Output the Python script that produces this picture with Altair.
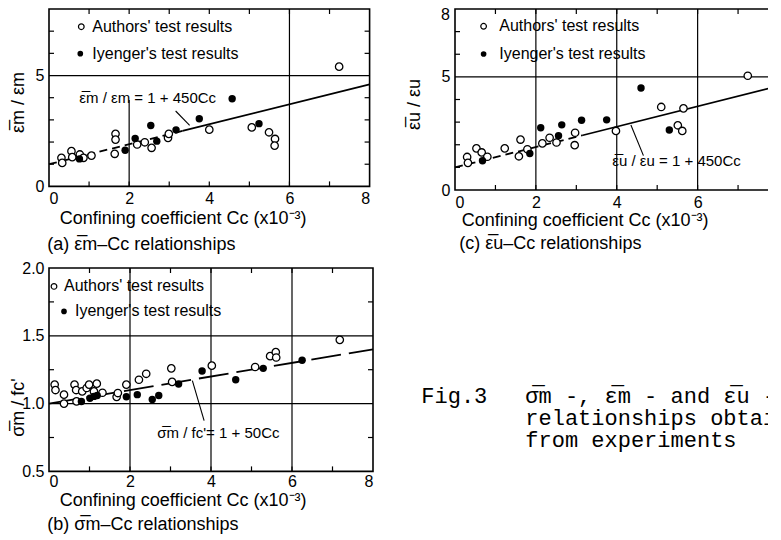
import altair as alt
import pandas as pd

FONT = "Liberation Sans"
MONO = "Liberation Mono"
OL = "\u0305"

# ---------------- data ----------------
# (a) mean strain ratio vs Cc (x10^-3)
a_open_x = [0.31, 0.33, 0.56, 0.58, 0.77, 0.86, 1.06, 1.66, 1.66, 1.64, 2.20, 2.39, 2.56, 2.97, 2.99, 4.00, 5.06, 5.49, 5.64, 5.63, 7.24]
a_open_y = [1.29, 1.06, 1.59, 1.32, 1.44, 1.29, 1.39, 2.37, 2.11, 1.47, 1.89, 1.99, 1.74, 2.19, 2.37, 2.56, 2.66, 2.44, 2.14, 1.84, 5.40]
a_fill_x = [0.76, 1.90, 2.15, 2.54, 2.69, 3.17, 3.75, 4.57, 5.24]
a_fill_y = [1.24, 1.63, 2.16, 2.75, 2.04, 2.55, 3.05, 3.95, 2.83]
a_fit_dash_x = [0.0, 3.33]
a_fit_dash_y = [1.0, 2.50]
a_fit_solid_x = [3.33, 8.0]
a_fit_solid_y = [2.50, 4.60]

# (b) stress ratio vs Cc
b_open_x = [0.14, 0.16, 0.37, 0.37, 0.63, 0.67, 0.68, 0.82, 0.93, 0.99, 1.11, 1.18, 1.32, 1.67, 1.70, 1.91, 2.22, 2.40, 3.02, 3.04, 4.02, 5.09, 5.46, 5.60, 5.61, 7.18]
b_open_y = [1.14, 1.10, 1.066, 1.00, 1.14, 1.10, 1.016, 1.09, 1.115, 1.14, 1.09, 1.147, 1.08, 1.05, 1.078, 1.14, 1.176, 1.22, 1.26, 1.16, 1.28, 1.27, 1.35, 1.38, 1.34, 1.47]
b_fill_x = [0.80, 1.01, 1.11, 1.19, 1.91, 2.18, 2.55, 2.71, 3.20, 3.78, 4.61, 5.29, 6.25]
b_fill_y = [1.016, 1.04, 1.053, 1.06, 1.05, 1.066, 1.03, 1.06, 1.145, 1.24, 1.176, 1.26, 1.32]
b_fit_x = [0.0, 8.0]
b_fit_y = [1.0, 1.4]

# (c) ultimate strain ratio vs Cc
c_open_x = [0.30, 0.32, 0.53, 0.66, 0.80, 1.23, 1.62, 1.58, 1.79, 2.16, 2.34, 2.51, 2.97, 2.96, 3.98, 5.10, 5.65, 5.51, 5.62, 7.24]
c_open_y = [1.46, 1.20, 1.84, 1.66, 1.47, 1.84, 2.23, 1.49, 1.80, 2.06, 2.31, 2.10, 2.53, 1.98, 2.61, 3.67, 3.61, 2.86, 2.61, 5.05]
c_fill_x = [0.68, 1.85, 2.12, 2.56, 2.64, 3.13, 3.75, 4.60, 5.30]
c_fill_y = [1.29, 1.61, 2.75, 2.40, 2.88, 3.08, 3.10, 4.51, 2.65]
c_fit_dash_x = [0.0, 3.16]
c_fit_dash_y = [1.0, 2.42]
c_fit_solid_x = [3.16, 8.0]
c_fit_solid_y = [2.42, 4.60]

x_label_vals = [0, 2, 4, 6, 8]
x_minor_ticks = [1, 2, 3, 4, 5, 6, 7]
ac_y_labels = [0, 5]
c_top_label = "8"
ac_y_ticks = [1, 2, 3, 4, 6, 7]
b_y_labels = [0.5, 1.0, 1.5, 2.0]
b_y_ticks = [0.75, 1.25, 1.75]

XTITLE = "Confining  coefficient  Cc  (x10\u207b\u00b3)"
LEG_OPEN = "Authors'  test  results"
LEG_FILL = "Iyenger's  test  results"

ONE = pd.DataFrame({"k": [0]})


def panel(W, H, ydom, ylabels, yfmt, yticks, grid_v, grid_h, grid_v_part,
          ox, oy, fx, fy, fits, eq_text, eq_pos, leader, leg, ytitle, ytitle_pos,
          xtitle_pos, xlabpad, sub_text, sub_pos, top_label=None):
    xs = alt.Scale(domain=[0, 8], nice=False, zero=False)
    ys = alt.Scale(domain=ydom, nice=False, zero=False)
    xax = alt.Axis(values=x_label_vals, format="d", ticks=False, domain=False, grid=False,
                   labelFont=FONT, labelFontSize=16, labelPadding=xlabpad, labelColor="black",
                   title=XTITLE, titleFont=FONT, titleFontSize=18, titleFontWeight="normal",
                   titleColor="black", titleX=xtitle_pos[0], titleY=xtitle_pos[1],
                   titleAlign="left", titleBaseline="middle")
    yax = alt.Axis(values=ylabels, format=yfmt, ticks=False, domain=False, grid=False,
                   labelFont=FONT, labelFontSize=16, labelPadding=5, labelColor="black",
                   title=ytitle, titleFont=FONT, titleFontSize=18, titleFontWeight="normal",
                   titleColor="black", titleX=ytitle_pos[0], titleY=ytitle_pos[1],
                   titleAngle=270, titleAlign="center", titleBaseline="middle")

    def X(f="x"):
        return alt.X(f"{f}:Q", scale=xs, axis=xax)

    def Y(f="y"):
        return alt.Y(f"{f}:Q", scale=ys, axis=yax)

    layers = []
    # grid lines
    if grid_v:
        layers.append(alt.Chart(pd.DataFrame({"x": grid_v})).mark_rule(color="black", strokeWidth=1.2).encode(x=X()))
    if grid_h:
        layers.append(alt.Chart(pd.DataFrame({"y": grid_h})).mark_rule(color="black", strokeWidth=1.2).encode(y=Y()))
    if grid_v_part:
        gp = pd.DataFrame({"x": [grid_v_part[0]], "y": [grid_v_part[1]], "y2": [grid_v_part[2]]})
        layers.append(alt.Chart(gp).mark_rule(color="black", strokeWidth=1.2).encode(x=X(), y=Y(), y2="y2:Q"))
    # inward ticks on all four sides
    tx = pd.DataFrame({"x": x_minor_ticks})
    ty = pd.DataFrame({"y": yticks})
    tl = 5
    layers.append(alt.Chart(tx).mark_rule(color="black", strokeWidth=1.2).encode(x=X(), y=alt.value(H), y2=alt.value(H - tl)))
    layers.append(alt.Chart(tx).mark_rule(color="black", strokeWidth=1.2).encode(x=X(), y=alt.value(0), y2=alt.value(tl)))
    layers.append(alt.Chart(ty).mark_rule(color="black", strokeWidth=1.2).encode(y=Y(), x=alt.value(0), x2=alt.value(tl)))
    layers.append(alt.Chart(ty).mark_rule(color="black", strokeWidth=1.2).encode(y=Y(), x=alt.value(W), x2=alt.value(W - tl)))
    # fitted line(s)
    for (fxs, fys, dash) in fits:
        d = pd.DataFrame({"x": fxs, "y": fys})
        if dash:
            m = alt.Chart(d).mark_line(color="black", strokeWidth=1.8, strokeDash=dash)
        else:
            m = alt.Chart(d).mark_line(color="black", strokeWidth=1.8)
        layers.append(m.encode(x=X(), y=Y()))
    # leader line
    ld = pd.DataFrame({"x": [leader[0]], "y": [leader[1]], "x2": [leader[2]], "y2": [leader[3]]})
    layers.append(alt.Chart(ld).mark_rule(color="black", strokeWidth=1.1).encode(x=X(), y=Y(), x2="x2:Q", y2="y2:Q"))
    # points
    layers.append(alt.Chart(pd.DataFrame({"x": ox, "y": oy})).mark_point(
        shape="circle", filled=True, fill="white", stroke="black", strokeWidth=1.3, size=55, opacity=1
    ).encode(x=X(), y=Y()))
    layers.append(alt.Chart(pd.DataFrame({"x": fx, "y": fy})).mark_circle(
        color="black", size=55, opacity=1
    ).encode(x=X(), y=Y()))
    # in-plot legend
    (ocx, ocy, otx), (fcx, fcy, ftx) = leg
    layers.append(alt.Chart(ONE).mark_point(shape="circle", filled=True, fill="white", stroke="black",
                                            strokeWidth=1.2, size=32, opacity=1)
                  .encode(x=alt.value(ocx), y=alt.value(ocy)))
    layers.append(alt.Chart(ONE).mark_circle(color="black", size=32, opacity=1)
                  .encode(x=alt.value(fcx), y=alt.value(fcy)))
    layers.append(alt.Chart(ONE).mark_text(text=LEG_OPEN, font=FONT, fontSize=16, align="left",
                                           baseline="middle", color="black")
                  .encode(x=alt.value(otx), y=alt.value(ocy)))
    layers.append(alt.Chart(ONE).mark_text(text=LEG_FILL, font=FONT, fontSize=16, align="left",
                                           baseline="middle", color="black")
                  .encode(x=alt.value(ftx), y=alt.value(fcy)))
    # equation label
    layers.append(alt.Chart(ONE).mark_text(text=eq_text, font=FONT, fontSize=15, align="left",
                                           baseline="middle", color="black")
                  .encode(x=alt.value(eq_pos[0]), y=alt.value(eq_pos[1])))
    # sub caption
    layers.append(alt.Chart(ONE).mark_text(text=sub_text, font=FONT, fontSize=18, align="left",
                                           baseline="middle", color="black")
                  .encode(x=alt.value(sub_pos[0]), y=alt.value(sub_pos[1])))
    # top y label (kept just inside the page)
    if top_label:
        layers.append(alt.Chart(ONE).mark_text(text=top_label, font=FONT, fontSize=16, align="right",
                                               baseline="middle", color="black")
                      .encode(x=alt.value(-5), y=alt.value(6)))
    return alt.layer(*layers).properties(width=W, height=H)


AW, AH = 320.6, 177.4
BW, BH = 324, 203.4
CW, CH = 323.5, 181

pa = panel(AW, AH, [0, 8], ac_y_labels, "d", ac_y_ticks, [6], [5], (2, 0, 3.9),
           a_open_x, a_open_y, a_fill_x, a_fill_y,
           [(a_fit_dash_x, a_fit_dash_y, [8, 5]), (a_fit_solid_x, a_fit_solid_y, None)],
           "\u03b5" + OL + "m / \u03b5m = 1 + 450Cc", (30.3, 88.7), (3.16, 3.40, 3.51, 2.75),
           ((32.3, 17.7, 43.3), (31.3, 44.7, 43.3)),
           "\u03b5" + OL + "m / \u03b5m", (-31, 93), (10.3, 32), 4,
           "(a) \u03b5" + OL + "m\u2013Cc  relationships", (-1.7, 235.7))

pb = panel(BW, BH, [0.5, 2.0], b_y_labels, ".1f", b_y_ticks, [2, 4, 6], [1.0, 1.5], None,
           b_open_x, b_open_y, b_fill_x, b_fill_y,
           [(b_fit_x, b_fit_y, [30, 8])],
           "\u03c3" + OL + "m / fc'= 1 + 50Cc", (108.3, 164.7), (3.54, 1.169, 3.83, 0.874),
           ((5, 18.4, 15), (15, 43.4, 26)),
           "\u03c3" + OL + "m / fc'", (-31, 139), (10.3, 29), 2,
           "(b) \u03c3" + OL + "m\u2013Cc  relationships", (-1.7, 256.7))

pc = panel(CW, CH, [0, 8], ac_y_labels, "d", ac_y_ticks, [2, 4, 6], [5], None,
           c_open_x, c_open_y, c_fill_x, c_fill_y,
           [(c_fit_dash_x, c_fit_dash_y, [8, 5]), (c_fit_solid_x, c_fit_solid_y, None)],
           "\u03b5" + OL + "u / \u03b5u = 1 + 450Cc", (157.3, 152), (4.35, 2.87, 4.66, 1.52),
           ((28.6, 17.3, 44.3), (28.6, 45, 44.3)),
           "\u03b5" + OL + "u / \u03b5u", (-40.7, 95), (6.3, 30.5), 4,
           "(c) \u03b5" + OL + "u\u2013Cc  relationships", (4.3, 235), top_label=c_top_label)

cap_lines = ["\u03c3" + OL + "m -, \u03b5" + OL + "m - and \u03b5" + OL + "u - Cc",
             "relationships obtained",
             "from experiments"]
cap_layers = [alt.Chart(ONE).mark_text(text="Fig.3", font=MONO, fontSize=22, align="left",
                                       baseline="alphabetic", color="black")
              .encode(x=alt.value(-33.7), y=alt.value(135))]
for i, line in enumerate(cap_lines):
    cap_layers.append(alt.Chart(ONE).mark_text(text=line, font=MONO, fontSize=22, align="left",
                                               baseline="alphabetic", color="black",
                                               limit=258, ellipsis="\u200b")
                      .encode(x=alt.value(70.3), y=alt.value([135, 157, 179][i])))
cap = alt.layer(*cap_layers).properties(width=300, height=190,
                                        view=alt.ViewBackground(stroke="transparent"))

chart = alt.concat(pa, pc, pb, cap, columns=2, spacing={"row": 78, "column": 82},
                   bounds="flush", align="each").properties(
    padding={"left": 0, "top": -2, "right": -15, "bottom": 0},
    background="white",
).configure_view(stroke="black", strokeWidth=1.6)

chart.save("out.html", embed_options={"renderer": "svg", "actions": False})
